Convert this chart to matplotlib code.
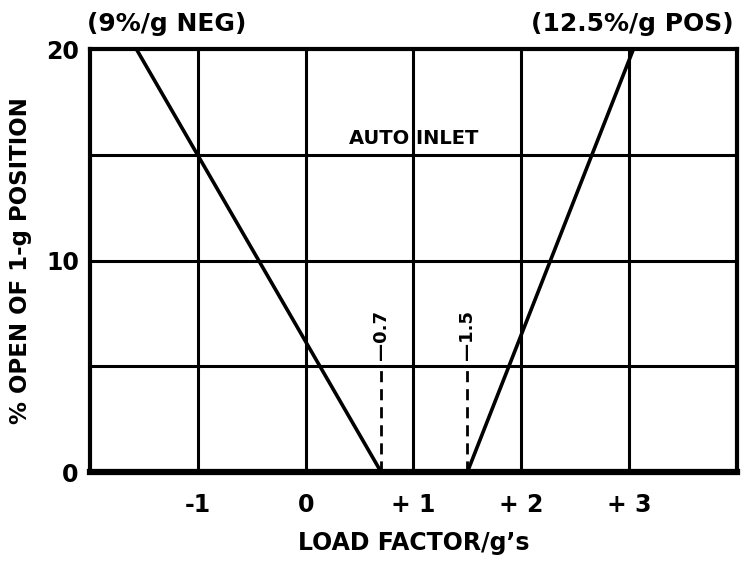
import matplotlib
matplotlib.use("Agg")
from matplotlib import pyplot as plt

plt.rcParams['font.family'] = ['DejaVu Sans']
plt.rcParams['font.weight'] = 'bold'
plt.rcParams['axes.labelweight'] = 'bold'

# schedule lines
neg_x = [-1.57, 0.7]
neg_y = [20, 0]
pos_x = [1.5, 3.04]
pos_y = [0, 20]

marks = [0.7, 1.5]
mark_labels = ['\u20140.7', '\u20141.5']

xticks = [-1, 0, 1, 2, 3]
xticklabels = ['-1', '0', '+ 1', '+ 2', '+ 3']
yticks = [0, 10, 20]

fig = plt.figure(figsize=(7.46, 5.63), dpi=100)
ax = fig.add_axes([0.1206, 0.1616, 0.8673, 0.7513])

for gx in [-1, 0, 1, 2, 3]:
    ax.axvline(gx, color='black', lw=2.2, zorder=1)
for gy in [5, 10, 15]:
    ax.axhline(gy, color='black', lw=2.2, zorder=1)

ax.plot(neg_x, neg_y, color='black', lw=2.6, solid_capstyle='butt', zorder=3)
ax.plot(pos_x, pos_y, color='black', lw=2.6, solid_capstyle='butt', zorder=3)

for m, lab in zip(marks, mark_labels):
    ax.plot([m, m], [0, 5], color='black', lw=2, ls=(0, (4, 2.5)), zorder=2)
    ax.text(m, 5.3, lab, rotation=90, ha='center', va='bottom', fontsize=13)

ax.text(1.0, 15.75, 'AUTO INLET', ha='center', va='center', fontsize=14)
ax.text(-2.03, 20.6, '(9%/g NEG)', ha='left', va='bottom', fontsize=18)
ax.text(3.97, 20.6, '(12.5%/g POS)', ha='right', va='bottom', fontsize=18)

ax.set_xlim(-2, 4)
ax.set_ylim(0, 20)
ax.set_xticks(xticks)
ax.set_xticklabels(xticklabels)
ax.set_yticks(yticks)
ax.tick_params(axis='x', length=0, labelsize=17, pad=15)
ax.tick_params(axis='y', length=0, labelsize=17, pad=8)
for s in ax.spines.values():
    s.set_linewidth(3)
ax.spines['bottom'].set_linewidth(4.5)

ax.set_xlabel('LOAD FACTOR/g\u2019s', fontsize=17, labelpad=10)
ax.set_ylabel('% OPEN OF 1-g POSITION', fontsize=16.5, labelpad=10)

fig.savefig('out.png', dpi=100)
